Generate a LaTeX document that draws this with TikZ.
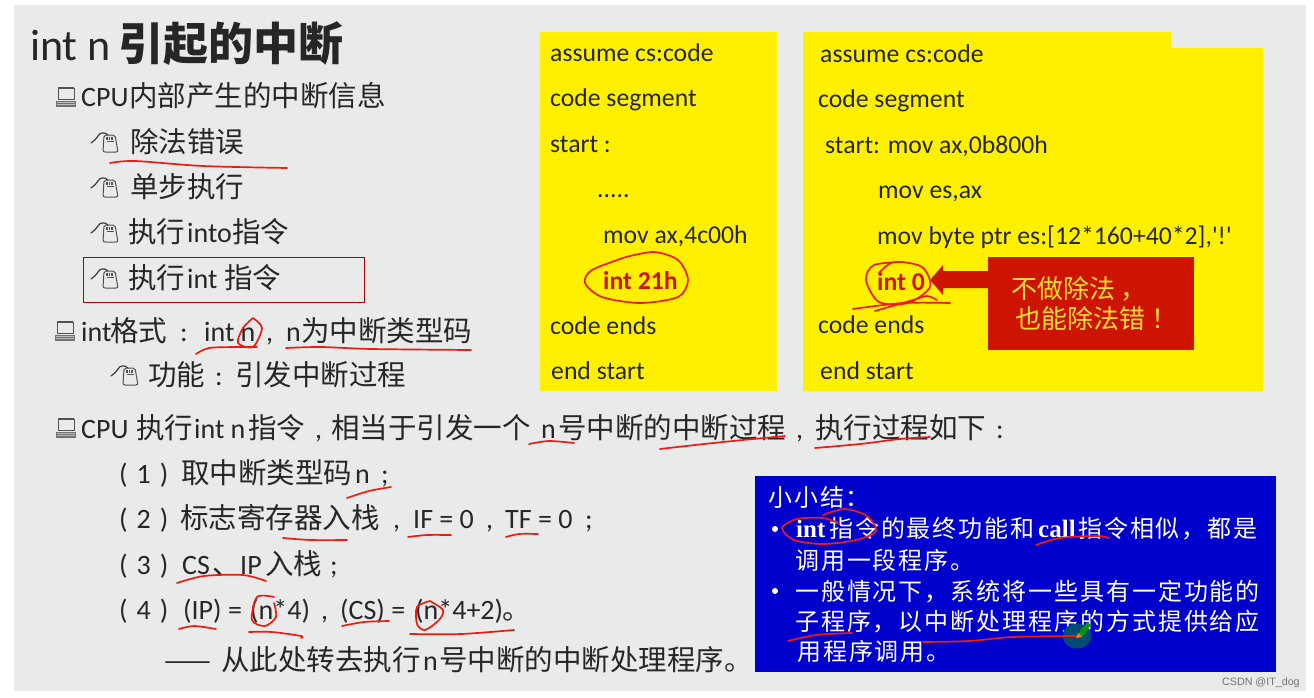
\documentclass[tikz,border=0pt]{standalone}
\usepackage{fontspec}
\setmainfont{Carlito}
\newfontfamily\codef{Carlito}
\newfontfamily\zhf{Noto Sans CJK SC}
\newfontfamily\zhb[LetterSpace=8]{Noto Sans CJK SC}
\newfontfamily\serf{Liberation Serif}
\newfontfamily\wmf{Liberation Sans}
\newcommand{\pnum}[1]{(\hspace{9pt}#1\hspace{9pt})}
\newcommand{\fs}[1]{\fontsize{#1}{#1}\selectfont}
\definecolor{slide}{HTML}{E9EBEA}
\definecolor{ink}{HTML}{262626}
\definecolor{codeyellow}{HTML}{FFF000}
\definecolor{boxred}{HTML}{CC1400}
\definecolor{boxblue}{HTML}{0000CC}
\definecolor{pen}{HTML}{EE1C10}
\definecolor{noteyellow}{HTML}{FFDD33}
\tikzset{
  x=1pt,y=-1pt,
  txt/.style={anchor=base west,inner sep=0pt,text=ink,font=\fs{28}},
  zhtxt/.style={anchor=base west,inner sep=0pt,text=ink,font=\zhf\fs{28.5}},
  code/.style={anchor=base west,inner sep=0pt,text=ink,font=\codef\fs{25.7}},
  codered/.style={code,text=boxred,font=\codef\fs{25.7}\bfseries},
  note/.style={anchor=base west,inner sep=0pt,text=noteyellow,font=\zhf\fs{26}},
  blue/.style={anchor=base west,inner sep=0pt,text=white,font=\zhb\fs{24}},
  bluelat/.style={anchor=base west,inner sep=0pt,text=white,font=\serf\fs{25}\bfseries},
  ink stroke/.style={draw=pen,line width=1.7pt,line cap=round,line join=round},
  kbicon/.pic={
    \draw[ink!80,line width=1pt] (3,1) rectangle (19,12);
    \draw[ink!80,line width=1.8pt] (3,1)--(19,1);
    \fill[ink!65] (1,13.5) rectangle (21,20);
    \draw[white!70!ink,line width=.5pt] (2,15.5)--(20,15.5) (2,17.7)--(20,17.7);
  },
  mouseicon/.pic={
    \draw[ink!80,line width=1pt,rounded corners=2pt,fill=slide] (13,3)--(24,3)--(27,20)--(12,20)--cycle;
    \draw[ink!80,line width=.9pt] (15.5,9)--(22.5,9);
    \draw[ink!80,line width=1.1pt] (16,4.5)--(16,8) (18.5,4.5)--(18.5,8) (21,4.5)--(21,8);
    \draw[ink!90,line width=1.2pt,line cap=round] (0,11) .. controls (4,8) and (5,7) .. (7,4) .. controls (9,0) and (14,0) .. (17,3);
  }
}
\begin{document}
\begin{tikzpicture}
\useasboundingbox (0,0) rectangle (1314,697);
\fill[white] (0,0) rectangle (1314,697);
\fill[slide] (14,5) rectangle (1306,691);

% title
\node[txt,font=\fs{44}] (title) at (30,60) {int n};
\node[txt,font=\zhf\fs{45}\bfseries] (titlezh) at (118,60) {引起的中断};

% left list
\pic at (55,87) {kbicon};
\node[txt] (l1) at (81,106) {CPU};
\node[zhtxt] (l1b) at (129,106) {内部产生的中断信息};
\pic at (91,132) {mouseicon};
\node[zhtxt] (l2) at (130,152) {除法错误};
\pic at (91,177) {mouseicon};
\node[zhtxt] (l3) at (130,197) {单步执行};
\pic at (91,222) {mouseicon};
\node[zhtxt] (l4) at (128,242) {执行};
\node[txt] (l4b) at (187,242) {into};
\node[zhtxt] (l4c) at (232,242) {指令};
\pic at (91,268) {mouseicon};
\node[zhtxt] (l5) at (128,288) {执行};
\node[txt] (l5b) at (187,288) {int};
\node[zhtxt] (l5c) at (224,288) {指令};
\draw[draw=red!70!black,line width=1pt] (83,257) rectangle (364,302);
\pic at (54,321) {kbicon};
\node[txt] (l6) at (81,341) {int};
\node[zhtxt] (l6a) at (110,341) {格式};
\node[txt] (l6k) at (180,341) {:};
\node[txt] (l6b) at (204,341) {int n};
\node[txt] (l6c) at (266,341) {,};
\node[txt] (l6d) at (286,341) {n};
\node[zhtxt] (l6e) at (301,341) {为中断类型码};
\pic at (111,365) {mouseicon};
\node[zhtxt] (l7) at (148,385) {功能};
\node[txt] (l7k) at (215,385) {:};
\node[zhtxt] (l7b) at (235,385) {引发中断过程};

% lower list
\pic at (55,418) {kbicon};
\node[txt] (m1) at (81,438) {CPU};
\node[zhtxt] (m1a) at (136,438) {执行};
\node[txt] (m1b) at (194,438) {int n};
\node[zhtxt] (m1c) at (248,438) {指令};
\node[txt] (m1d) at (315,438) {,};
\node[zhtxt] (m1e) at (331,438) {相当于引发一个};
\node[txt] (m1f) at (541,438) {n};
\node[zhtxt] (m1g) at (558,438) {号中断的中断过程};
\node[txt] (m1h) at (796,438) {,};
\node[zhtxt] (m1i) at (815,438) {执行过程如下};
\node[txt] (m1j) at (996,438) {:};
\node[txt] (m2) at (119,483) {\pnum{1}};
\node[zhtxt] (m2b) at (181,483) {取中断类型码};
\node[txt] (m2c) at (355,483) {n};
\node[txt] (m2d) at (381,483) {;};
\node[txt] (m3) at (119,528) {\pnum{2}};
\node[zhtxt] (m3b) at (180,528) {标志寄存器入栈};
\node[txt] (m3c) at (393,528) {,};
\node[txt] (m3d) at (413,528) {IF = 0};
\node[txt] (m3e) at (486,528) {,};
\node[txt] (m3f) at (505,528) {TF = 0};
\node[txt] (m3g) at (585,528) {;};
\node[txt] (m4) at (119,574) {\pnum{3}};
\node[txt] (m4b) at (182,574) {CS};
\node[zhtxt] (m4c) at (212,574) {、};
\node[txt] (m4d) at (240,574) {IP};
\node[zhtxt] (m4e) at (265,574) {入栈};
\node[txt] (m4f) at (330,574) {;};
\node[txt] (m5) at (119,619) {\pnum{4}};
\node[txt] (m5b) at (183,619) {(IP) =};
\node[txt] (m5c) at (250,619) {(n*4)};
\node[txt] (m5d) at (321,619) {,};
\node[txt] (m5e) at (340,619) {(CS) =};
\node[txt] (m5f) at (415,619) {(n*4+2)};
\node[zhtxt] (m5g) at (502,619) {。};
\node[zhtxt,font=\zhf\fs{28}] (m6) at (164,670) {——};
\node[zhtxt] (m6a) at (221,670) {从此处转去执行};
\node[txt] (m6b) at (423,670) {n};
\node[zhtxt] (m6c) at (439,670) {号中断的中断处理程序。};

% left code box
\fill[codeyellow] (540,32) rectangle (777,391);
\node[code] (a1) at (550,61) {assume cs:code};
\node[code] (a2) at (550,106) {code segment};
\node[code] (a3) at (550,152) {start :};
\node[code] (a4) at (597,197) {.....};
\node[code] (a5) at (603,243) {mov ax,4c00h};
\node[codered] (a6) at (603,289) {int 21h};
\node[code] (a7) at (550,334) {code ends};
\node[code] (a8) at (551,379) {end start};

% right code box
\fill[codeyellow] (803,32)--(1171,32)--(1171,48)--(1263,48)--(1263,391)--(803,391)--cycle;
\node[code] (b1) at (820,62) {assume cs:code};
\node[code] (b2) at (818,107) {code segment};
\node[code] (b3) at (825,153) {start: mov ax,0b800h};
\node[code] (b4) at (878,198) {mov es,ax};
\node[code] (b5) at (877,244) {mov byte ptr es:[12*160+40*2],'!'};
\node[codered] (b6) at (877,290) {int 0};
\node[code] (b7) at (818,333) {code ends};
\node[code] (b8) at (820,379) {end start};

% callout
\fill[boxred] (988,257) rectangle (1194,350);
\fill[boxred] (930,280)--(943,265)--(943,271)--(988,271)--(988,288)--(943,288)--(943,295)--cycle;
\node[note] (n1) at (1011,298) {不做除法};
\node[note] (n1b) at (1120,298) {，};
\node[note] (n2) at (1015,328) {也能除法错};
\node[note] (n2b) at (1151,328) {！};

% blue box
\fill[boxblue] (755,476) rectangle (1276,672);
\node[blue] (s0) at (768,506) {小小结：};
\fill[white] (775,529) circle (3);
\node[bluelat] (s1) at (796,537) {int};
\node[blue] (s1b) at (829,537) {指令的最终功能和};
\node[bluelat] (s1c) at (1038,537) {call};
\node[blue] (s1d) at (1078,537) {指令相似，都是};
\node[blue] (s2) at (795,569) {调用一段程序。};
\fill[white] (775,591) circle (3);
\node[blue] (s3) at (795,600) {一般情况下，系统将一些具有一定功能的};
\node[blue] (s4) at (795,630) {子程序，以中断处理程序的方式提供给应};
\node[blue] (s5) at (797,660) {用程序调用。};

% pen cursor
\fill[black!30!teal!85!blue] (1077,636) ellipse (14.5 and 12.5);
\fill[green!60!black] (1078,634)--(1087,622)--(1091,625)--(1082,637)--cycle;
\fill[orange] (1076,638)--(1078,633)--(1082,637)--cycle;

% hand strokes
\draw[ink stroke] plot[smooth] coordinates {(110,163)(135,161)(203,166)(287,168)};
\draw[ink stroke] plot[smooth] coordinates {(196,354)(209,348)(236,347)(257,347)};
\draw[ink stroke] plot[smooth] coordinates {(253,318)(262,328)(253,347)(238,343)(243,328)(253,318)};
\draw[ink stroke] plot[smooth] coordinates {(286,348)(321,347)(372,349)(471,350)};
\draw[ink stroke] plot[smooth] coordinates {(529,444)(549,441)(574,443)};
\draw[ink stroke] plot[smooth] coordinates {(660,449)(704,444)(743,440)(785,436)};
\draw[ink stroke] plot[smooth] coordinates {(815,448)(860,444)(900,439)(930,437)};
\draw[ink stroke] plot[smooth] coordinates {(347,498)(369,491)(391,487)};
\draw[ink stroke] plot[smooth] coordinates {(283,538)(311,540)(347,540)};
\draw[ink stroke] plot[smooth] coordinates {(408,537)(427,535)(451,535)};
\draw[ink stroke] plot[smooth] coordinates {(506,537)(519,534)(538,534)};
\draw[ink stroke] plot[smooth] coordinates {(177,583)(204,576)(243,575)(266,581)};
\draw[ink stroke] plot[smooth] coordinates {(179,629)(194,626)(216,629)};
\draw[ink stroke] plot[smooth] coordinates {(274,597)(257,597)(252,620)(265,626)(276,617)(274,603)};
\draw[ink stroke] plot[smooth] coordinates {(249,632)(272,632)(301,636)(301,638)};
\draw[ink stroke] plot[smooth] coordinates {(342,626)(364,622)(389,621)};
\draw[ink stroke] plot[smooth] coordinates {(430,601)(417,607)(417,624)(425,630)(439,620)(443,610)(430,601)};
\draw[ink stroke] plot[smooth] coordinates {(410,634)(461,634)(514,630)};
\draw[ink stroke] plot[smooth] coordinates {(626,257)(592,270)(585,283)(602,297)(640,303)(678,297)(688,280)(678,260)(654,252)(626,257)};
\draw[ink stroke] plot[smooth] coordinates {(903,262)(874,265)(866,280)(879,302)(908,303)(930,287)(922,267)(894,262)(879,273)};
\draw[ink stroke] plot[smooth] coordinates {(853,309)(903,303)(950,303)};
\draw[ink stroke] plot[smooth] coordinates {(875,311)(913,300)(927,296)(937,300)};
\draw[ink stroke] plot[smooth] coordinates {(823,515)(845,509)(867,516)(876,531)(856,540)(823,544)(794,540)(782,528)(797,519)(823,518)(838,523)};
\draw[ink stroke] plot[smooth] coordinates {(1036,545)(1060,538)(1097,536)(1109,538)};
\draw[ink stroke] plot[smooth] coordinates {(788,641)(816,635)(852,633)};
\draw[ink stroke] plot[smooth] coordinates {(923,642)(969,641)(1013,637)(1076,636)};

% watermark
\node[anchor=base west,inner sep=0pt,text=black!55,font=\wmf\fs{10.7}] (wm) at (1222,685) {CSDN @IT\_dog};
\end{tikzpicture}
\end{document}
